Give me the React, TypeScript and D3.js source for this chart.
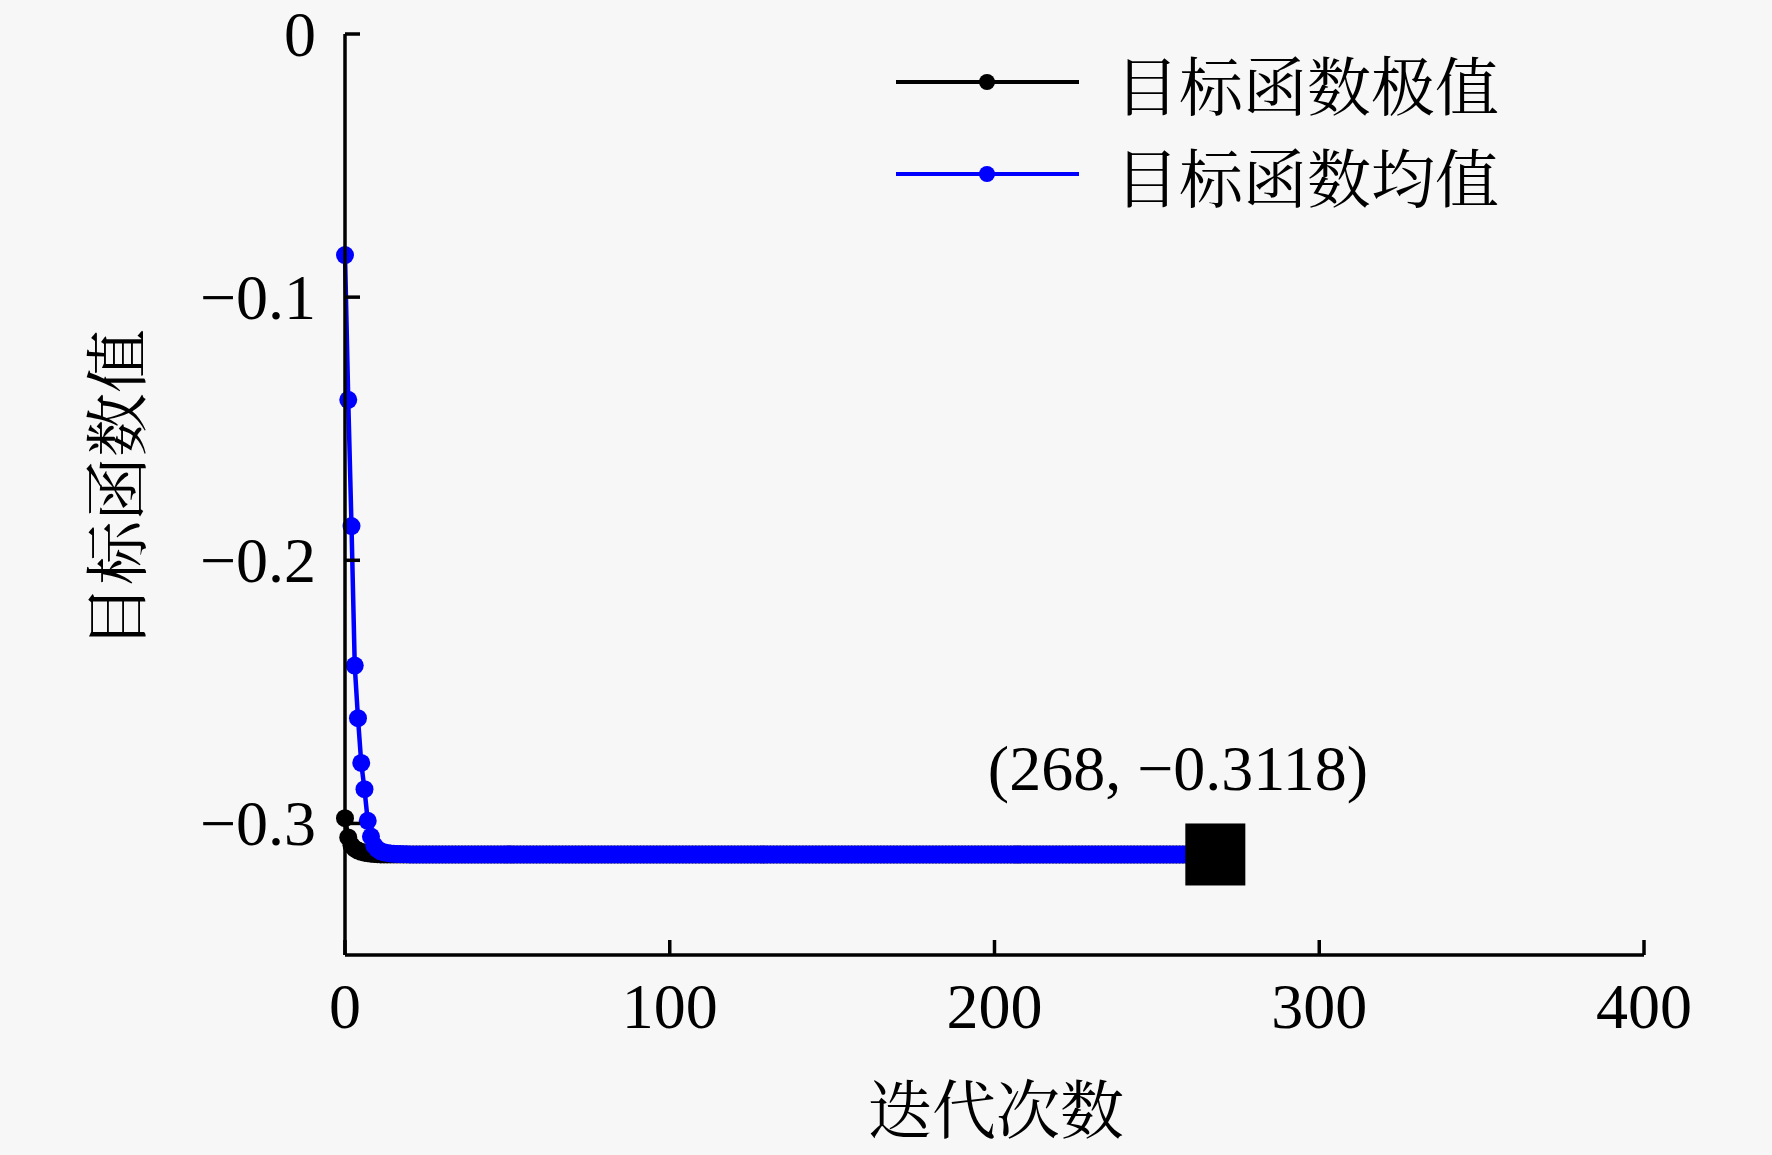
import React from "react";
import * as d3 from "d3";

// ---- data ----
const xTicks = [0, 100, 200, 300, 400];
const yTicks = [0, -0.1, -0.2, -0.3];
const yTickLabels = ["0", "\u22120.1", "\u22120.2", "\u22120.3"];

// 目标函数极值: first iterations, then plateau
const bestEarly = [-0.298, -0.3053, -0.3083, -0.3096, -0.3103, -0.3108, -0.3111, -0.3113, -0.3115, -0.3116, -0.3117];
// 目标函数均值: first iterations, then plateau
const meanEarly = [
  -0.084, -0.139, -0.187, -0.24, -0.26, -0.277, -0.287, -0.299, -0.305, -0.3083,
  -0.3098, -0.3106, -0.311, -0.3112, -0.3114, -0.3115, -0.3116, -0.3116, -0.3117, -0.3117,
];
const plateauValue = -0.3118;
const lastIteration = 268;
const annotationPoint = { x: 268, y: -0.3118, label: "(268, \u22120.3118)" };

const seriesNames = ["目标函数极值", "目标函数均值"];
const seriesColors = ["#000000", "#0000ff"];
const xLabel = "迭代次数";
const yLabel = "目标函数值";

function buildSeries(early: number[]) {
  const pts: [number, number][] = [];
  for (let i = 0; i <= lastIteration; i++) {
    pts.push([i, i < early.length ? early[i] : plateauValue]);
  }
  return pts;
}

const W = 1772;
const H = 1155;
const serif = "'Liberation Serif', 'Times New Roman', serif";
const cjk = "'Noto Serif CJK SC', 'Noto Sans CJK SC', sans-serif";

export default function App() {
  const x = d3.scaleLinear().domain([0, 400]).range([345, 1644]);
  const y = d3.scaleLinear().domain([-0.35, 0]).range([955, 34]);
  const line = d3
    .line<[number, number]>()
    .x((d) => x(d[0]))
    .y((d) => y(d[1]));

  const series = [buildSeries(bestEarly), buildSeries(meanEarly)];
  const tickLen = 15;
  const fs = 64;

  return (
    <svg
      width={W}
      height={H}
      viewBox={`0 0 ${W} ${H}`}
      style={{ position: "absolute", left: 0, top: 0, display: "block" }}
    >
      <rect x={0} y={0} width={W} height={H} fill="#f7f7f7" />

      {/* series */}
      {series.map((pts, si) => (
        <g key={si}>
          <path d={line(pts) || ""} fill="none" stroke={seriesColors[si]} strokeWidth={4.5} />
          {pts.map((p, i) => (
            <circle key={i} cx={x(p[0])} cy={y(p[1])} r={9} fill={seriesColors[si]} />
          ))}
        </g>
      ))}

      {/* axes */}
      <line x1={x(0)} x2={x(0)} y1={y(0)} y2={y(-0.35)} stroke="#000" strokeWidth={3.5} />
      <line x1={x(0)} x2={x(400)} y1={y(-0.35)} y2={y(-0.35)} stroke="#000" strokeWidth={3.5} />
      {yTicks.map((t, i) => (
        <g key={"y" + i}>
          <line x1={x(0)} x2={x(0) + tickLen} y1={y(t)} y2={y(t)} stroke="#000" strokeWidth={3.5} />
          <text
            x={316}
            y={y(t)}
            textAnchor="end"
            dominantBaseline="central"
            fontFamily={serif}
            fontSize={fs}
            fill="#000"
          >
            {yTickLabels[i]}
          </text>
        </g>
      ))}
      {xTicks.map((t, i) => (
        <g key={"x" + i}>
          <line x1={x(t)} x2={x(t)} y1={y(-0.35)} y2={y(-0.35) - tickLen} stroke="#000" strokeWidth={3.5} />
          <text x={x(t)} y={1028} textAnchor="middle" fontFamily={serif} fontSize={fs} fill="#000">
            {String(t)}
          </text>
        </g>
      ))}

      {/* axis labels */}
      <text x={996} y={1133} textAnchor="middle" fontFamily={cjk} fontSize={fs} fill="#000">
        {xLabel}
      </text>
      <text
        x={0}
        y={0}
        transform={`translate(112,489) rotate(-90)`}
        textAnchor="middle"
        dominantBaseline="central"
        fontFamily={cjk}
        fontSize={fs}
        fill="#000"
      >
        {yLabel}
      </text>

      {/* annotation */}
      <rect x={x(annotationPoint.x) - 30} y={y(annotationPoint.y) - 31} width={60} height={62} fill="#000" />
      <text x={1178} y={790} textAnchor="middle" fontFamily={serif} fontSize={fs} fill="#000">
        {annotationPoint.label}
      </text>

      {/* legend */}
      {seriesNames.map((name, i) => {
        const ly = [82, 174][i];
        return (
          <g key={"l" + i}>
            <line x1={896} x2={1079} y1={ly} y2={ly} stroke={seriesColors[i]} strokeWidth={4} />
            <circle cx={987} cy={ly} r={8} fill={seriesColors[i]} />
            <text x={1115} y={ly} dominantBaseline="central" fontFamily={cjk} fontSize={fs} fill="#000">
              {name}
            </text>
          </g>
        );
      })}
    </svg>
  );
}
